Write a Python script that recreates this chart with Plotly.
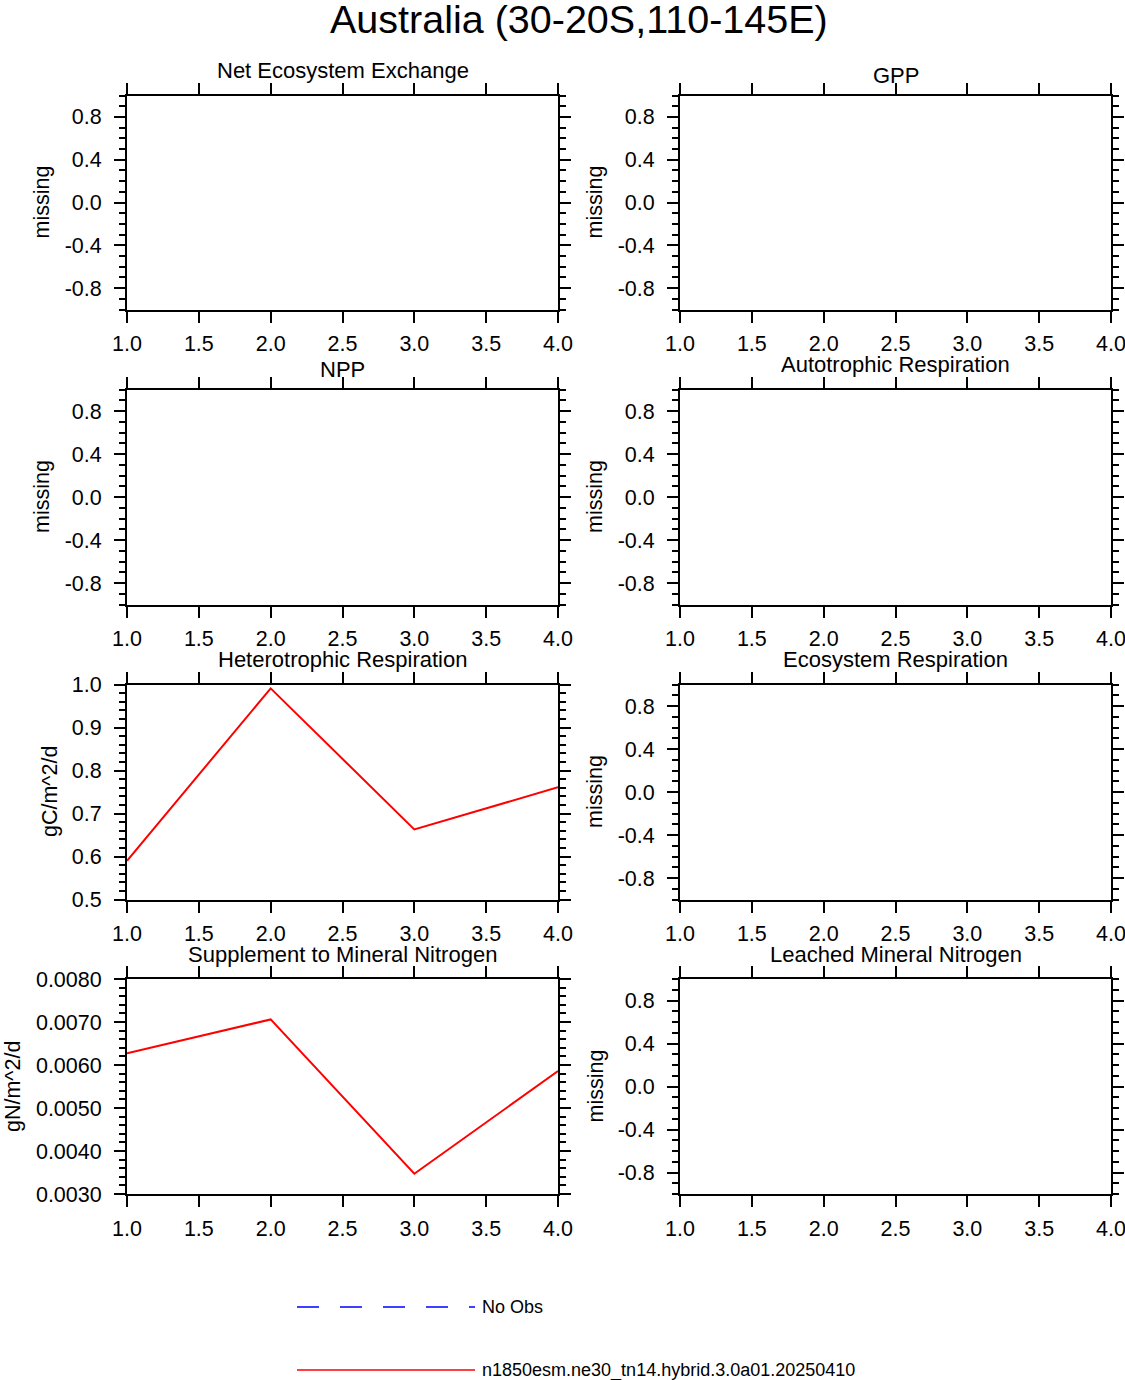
import numpy as np
import plotly.graph_objects as go

# model years on the x axis
years = [1, 2, 3, 4]

hr_vals = [0.590, 0.991, 0.663, 0.761]          # gC/m^2/d
sminn_vals = [0.00627, 0.00706, 0.00347, 0.00586]  # gN/m^2/d

case_name = "n1850esm.ne30_tn14.hybrid.3.0a01.20250410"
obs_name = "No Obs"

panel_titles = ["Net Ecosystem Exchange", "GPP",
                "NPP", "Autotrophic Respiration",
                "Heterotrophic Respiration", "Ecosystem Respiration",
                "Supplement to Mineral Nitrogen", "Leached Mineral Nitrogen"]
panel_units = ["missing", "missing", "missing", "missing",
               "gC/m^2/d", "missing", "gN/m^2/d", "missing"]
panel_data = [None, None, None, None, hr_vals, None, sminn_vals, None]

x_ticks = [1.0, 1.5, 2.0, 2.5, 3.0, 3.5, 4.0]

W, H = 1125, 1380
FONT = "Liberation Sans, Arial, Helvetica, sans-serif"


def px_x(p):
    return p / W


def px_y(p):
    return 1 - p / H


# panel frames in pixels (left, right) and (top, bottom)
cols_px = [(127, 558), (680, 1111)]
rows_px = [(95.5, 309.5), (389.5, 604.5), (684.5, 899.5), (979, 1194)]
# how far left of the frame the y title is centred
unit_gap = {"missing": 85, "gC/m^2/d": 77, "gN/m^2/d": 114.5}


def y_axis_setup(unit, data):
    if data is None:
        vals = [-0.8, -0.4, 0.0, 0.4, 0.8]
        minor = np.arange(-1.0, 1.01, 0.1)
        return dict(range=[-1, 1], tickvals=vals,
                    ticktext=["%.1f" % v for v in vals]), list(np.round(minor, 2))
    if unit == "gC/m^2/d":
        vals = [0.5, 0.6, 0.7, 0.8, 0.9, 1.0]
        minor = np.arange(0.5, 1.001, 0.02)
        return dict(range=[0.5, 1.0], tickvals=vals,
                    ticktext=["%.1f" % v for v in vals]), list(np.round(minor, 3))
    vals = [0.003, 0.004, 0.005, 0.006, 0.007, 0.008]
    minor = np.arange(0.003, 0.00801, 0.0002)
    return dict(range=[0.003, 0.008], tickvals=vals,
                ticktext=["%.4f" % v for v in vals]), list(np.round(minor, 5))


fig = go.Figure()
annotations = []

for i, title in enumerate(panel_titles):
    r, c = divmod(i, 2)
    n = i + 1
    xa = "x" if n == 1 else "x%d" % n
    ya = "y" if n == 1 else "y%d" % n
    data = panel_data[i]

    if data is None:
        fig.add_trace(go.Scatter(x=[], y=[], mode="lines", name=obs_name,
                                 line=dict(color="blue", dash="dash"),
                                 xaxis=xa, yaxis=ya, showlegend=False))
    else:
        fig.add_trace(go.Scatter(x=years, y=data, mode="lines", name=case_name,
                                 line=dict(color="red", width=2),
                                 xaxis=xa, yaxis=ya, showlegend=False))

    x0, x1 = cols_px[c]
    t, b = rows_px[r]
    common = dict(showline=True, linewidth=2, linecolor="black", mirror="ticks",
                  ticks="outside", ticklen=11, tickwidth=2, tickcolor="black",
                  showgrid=False, zeroline=False, automargin=False,
                  ticklabeloverflow="allow",
                  tickfont=dict(size=21.5, color="black", family=FONT))
    ycfg, minor_vals = y_axis_setup(panel_units[i], data)
    xkey = "xaxis" if n == 1 else "xaxis%d" % n
    ykey = "yaxis" if n == 1 else "yaxis%d" % n
    fig.update_layout(**{
        xkey: dict(common, domain=[px_x(x0), px_x(x1)], anchor=ya, range=[1, 4],
                   tickvals=x_ticks, ticktext=["%.1f" % v for v in x_ticks],
                   ticklabelstandoff=3),
        ykey: dict(common, domain=[px_y(b), px_y(t)], anchor=xa,
                   ticklabelstandoff=8,
                   minor=dict(tickvals=minor_vals, ticks="outside", ticklen=6,
                              tickwidth=1.5, tickcolor="black"),
                   **ycfg),
    })

    # y title, rotated, left of the tick labels
    annotations.append(dict(text=panel_units[i], xref="paper", yref="paper",
                            x=px_x(x0 - unit_gap[panel_units[i]]), y=px_y((t + b) / 2),
                            xanchor="center", yanchor="middle", textangle=-90,
                            showarrow=False,
                            font=dict(size=21.5, color="black", family=FONT)))

    # panel title, sits just above the frame
    has_desc = any(ch in title for ch in "gjpqy")
    base = t - (15 if has_desc else 10)
    annotations.append(dict(text=title, xref="paper", yref="paper",
                            x=px_x((x0 + x1) / 2), y=px_y(base + 4.5),
                            xanchor="center", yanchor="bottom", showarrow=False,
                            font=dict(size=22, color="black", family=FONT)))

# main title
annotations.append(dict(text="Australia (30-20S,110-145E)", xref="paper", yref="paper",
                        x=px_x(578.5), y=px_y(42.5), xanchor="center", yanchor="bottom",
                        showarrow=False, font=dict(size=39.5, color="black", family=FONT)))

# legend drawn below the panels
legend_rows = [(obs_name, "blue", "22px,21px", 1307), (case_name, "red", "solid", 1370)]
shapes = []
for name, color, dash, ypix in legend_rows:
    shapes.append(dict(type="line", xref="paper", yref="paper",
                       x0=px_x(297), x1=px_x(475), y0=px_y(ypix), y1=px_y(ypix),
                       line=dict(color=color, width=1.5, dash=dash)))
    annotations.append(dict(text=name, xref="paper", yref="paper",
                            x=px_x(480), y=px_y(ypix), xanchor="left", yanchor="middle",
                            showarrow=False, font=dict(size=18, color="black", family=FONT)))

fig.update_layout(width=W, height=H, margin=dict(l=0, r=0, t=0, b=0),
                  paper_bgcolor="white", plot_bgcolor="white",
                  showlegend=False, annotations=annotations, shapes=shapes,
                  font=dict(family=FONT, color="black"))

# the page body has an 8px margin by default; drop it so the figure fills the window
fig.write_html("out.html", config={"displayModeBar": False},
               post_script="document.body.style.margin = '0px';")
